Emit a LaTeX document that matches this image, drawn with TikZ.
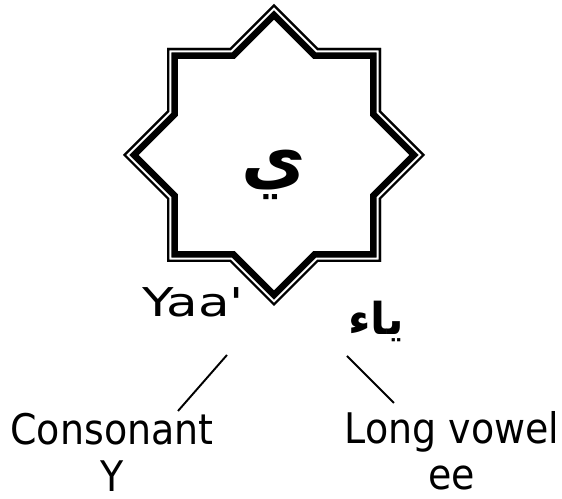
\documentclass[tikz,border=0pt]{standalone}
\usepackage{fontspec}
\setmainfont{DejaVu Sans}[FakeStretch=0.9]
\newfontfamily\widefont{DejaVu Sans}[FakeStretch=1.3]
\newfontfamily\arabicfont[Script=Arabic]{DejaVu Sans}
\TeXXeTstate=1
\def\starpath{(0,-151) -- (44,-107) -- (107,-107) -- (107,-44) -- (151,0) -- (107,44) -- (107,107) -- (44,107) -- (0,151) -- (-44,107) -- (-107,107) -- (-107,44) -- (-151,0) -- (-107,-44) -- (-107,-107) -- (-44,-107) -- cycle}
\begin{document}
\begin{tikzpicture}[x=0.02cm,y=-0.02cm,
    caption/.style={inner sep=0pt,align=center,font=\fontsize{24}{26.4}\selectfont},
    link/.style={line width=1.1pt}]
  \useasboundingbox (0,0) rectangle (562,499);
  % star outline: thin line outside, thick line inside
  \begin{scope}[shift={(274,155)}]
    \clip \starpath;
    \draw[line width=12.5pt] \starpath;
    \draw[white,line width=4.9pt] \starpath;
    \draw[line width=2.6pt] \starpath;
  \end{scope}
  \node[inner sep=0pt,font=\arabicfont\bfseries\fontsize{40}{46}\selectfont] (letter) at (274,175) {\beginR ي\endR};
  \node[inner sep=0pt,anchor=base,font=\widefont\fontsize{22.6}{26}\selectfont] (translit) at (193,317) {Yaa'};
  \node[inner sep=0pt,font=\arabicfont\bfseries\fontsize{25}{30}\selectfont] (arabname) at (376,321) {\beginR ياء\endR};
  \node[caption,anchor=north] (consonant) at (112,413) {Consonant\\Y};
  \node[caption,anchor=north] (vowel) at (452,411) {Long vowel\\ee};
  \draw[link] ([shift={(34,38)}]translit.base) -- ([shift={(66,-2)}]consonant.north);
  \draw[link] ([shift={(-29,35)}]arabname.center) -- ([shift={(-58,-8)}]vowel.north);
\end{tikzpicture}
\end{document}
